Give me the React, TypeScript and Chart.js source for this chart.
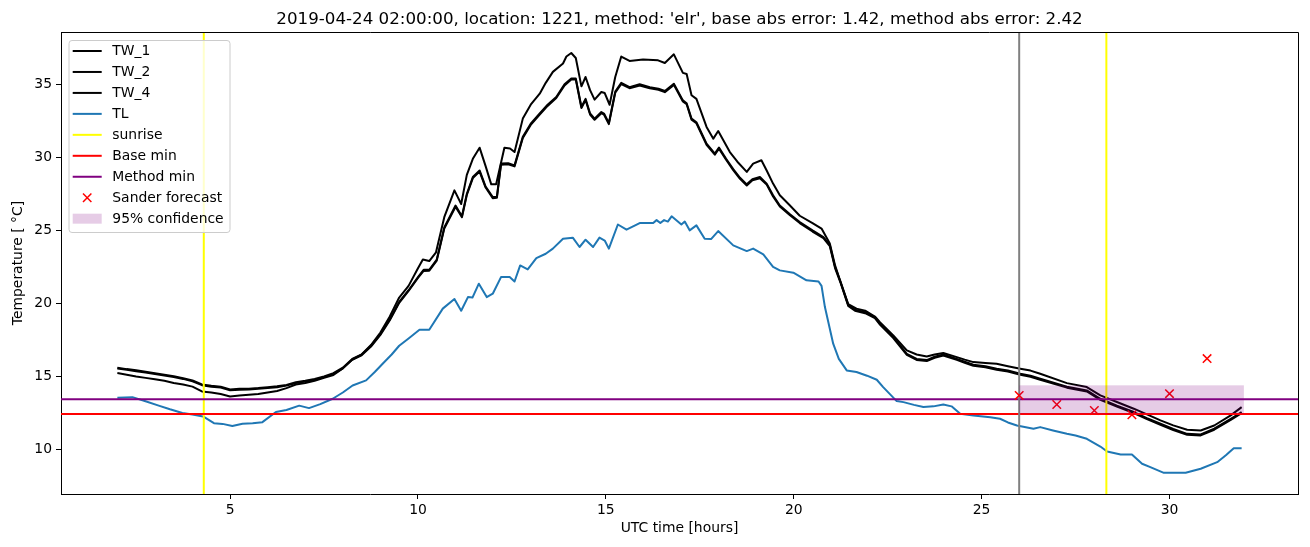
import React, { useEffect, useRef } from "react";
import { Chart, registerables } from "chart.js";

Chart.register(...registerables);

const TITLE =
  "2019-04-24 02:00:00, location: 1221, method: 'elr', base abs error: 1.42, method abs error: 2.42";
const X_LABEL = "UTC time [hours]";
const Y_LABEL = "Temperature [ °C]";
const X_TICKS = [5, 10, 15, 20, 25, 30];
const Y_TICKS = [10, 15, 20, 25, 30, 35];
const X_MIN = 0.5;
const X_MAX = 33.42;
const Y_MIN = 6.95;
const Y_MAX = 38.58;

// [hour, temperature]
const TW_1: [number, number][] = [
  [2.0, 15.6], [2.25, 15.5], [2.5, 15.42], [2.75, 15.32], [3.0, 15.22], [3.25, 15.12], [3.5, 15.02], [3.75, 14.88],
  [4.0, 14.72], [4.25, 14.45], [4.5, 14.36], [4.75, 14.3], [5.0, 14.1], [5.25, 14.15], [5.5, 14.16], [5.75, 14.2],
  [6.0, 14.26], [6.25, 14.32], [6.5, 14.42], [6.75, 14.6], [7.0, 14.7], [7.25, 14.82], [7.5, 15.0], [7.75, 15.22],
  [8.0, 15.6], [8.25, 16.2], [8.5, 16.5], [8.75, 17.1], [9.0, 17.9], [9.25, 18.9], [9.5, 20.1], [9.75, 20.9],
  [10.0, 21.8], [10.15, 22.3], [10.3, 22.3], [10.5, 23.0], [10.7, 25.2], [11.0, 26.7], [11.17, 25.96], [11.3, 27.5],
  [11.46, 28.65], [11.64, 29.1], [11.8, 28.0], [11.99, 27.28], [12.1, 27.3], [12.21, 29.57], [12.4, 29.6], [12.57, 29.45],
  [12.79, 31.4], [13.0, 32.3], [13.24, 33.0], [13.45, 33.6], [13.68, 34.13], [13.9, 35.0], [14.08, 35.4], [14.2, 35.4],
  [14.35, 33.45], [14.46, 34.0], [14.58, 33.0], [14.7, 32.65], [14.88, 33.1], [14.95, 33.0], [15.08, 32.35], [15.25, 34.5],
  [15.41, 35.1], [15.63, 34.8], [15.9, 35.0], [16.17, 34.8], [16.4, 34.7], [16.57, 34.54], [16.81, 35.04], [17.05, 33.9],
  [17.15, 33.7], [17.28, 32.65], [17.41, 32.4], [17.68, 30.94], [17.9, 30.25], [18.01, 30.67], [18.2, 29.9], [18.39, 29.2],
  [18.57, 28.6], [18.75, 28.15], [18.9, 28.5], [19.1, 28.65], [19.28, 28.2], [19.45, 27.4], [19.63, 26.7], [19.9, 26.1],
  [20.16, 25.57], [20.5, 25.0], [20.79, 24.54], [20.96, 24.0], [21.1, 22.5], [21.23, 21.6], [21.45, 19.9], [21.63, 19.57],
  [21.9, 19.4], [22.16, 19.06], [22.3, 18.6], [22.65, 17.7], [23.01, 16.55], [23.27, 16.2], [23.54, 16.12], [23.75, 16.35],
  [23.98, 16.5], [24.34, 16.2], [24.55, 16.0], [24.78, 15.8], [25.1, 15.7], [25.4, 15.53], [25.7, 15.4], [26.03, 15.18],
  [26.3, 15.05], [26.56, 14.84], [27.27, 14.3], [27.8, 14.04], [28.16, 13.47], [28.6, 13.0], [29.05, 12.56], [29.4, 12.15],
  [29.76, 11.76], [30.1, 11.4], [30.47, 11.07], [30.83, 11.03], [31.19, 11.42], [31.63, 12.1], [31.92, 12.56],
];

const TW_2: [number, number][] = [
  [2.0, 15.54], [2.25, 15.45], [2.5, 15.36], [2.75, 15.27], [3.0, 15.16], [3.25, 15.07], [3.5, 14.96], [3.75, 14.83],
  [4.0, 14.66], [4.25, 14.4], [4.5, 14.3], [4.75, 14.24], [5.0, 14.05], [5.25, 14.09], [5.5, 14.1], [5.75, 14.15],
  [6.0, 14.2], [6.25, 14.26], [6.5, 14.37], [6.75, 14.54], [7.0, 14.65], [7.25, 14.76], [7.5, 14.95], [7.75, 15.17],
  [8.0, 15.55], [8.25, 16.14], [8.5, 16.45], [8.75, 17.04], [9.0, 17.84], [9.25, 18.85], [9.5, 20.04], [9.75, 20.85],
  [10.0, 21.74], [10.15, 22.22], [10.3, 22.24], [10.5, 22.93], [10.7, 25.12], [11.0, 26.62], [11.17, 25.9], [11.3, 27.42],
  [11.46, 28.58], [11.64, 29.02], [11.8, 27.93], [11.99, 27.2], [12.1, 27.23], [12.21, 29.5], [12.4, 29.52], [12.57, 29.38],
  [12.79, 31.32], [13.0, 32.22], [13.24, 32.93], [13.45, 33.52], [13.68, 34.06], [13.9, 34.92], [14.08, 35.32], [14.2, 35.33],
  [14.35, 33.38], [14.46, 33.92], [14.58, 32.93], [14.7, 32.57], [14.88, 33.02], [14.95, 32.93], [15.08, 32.27], [15.25, 34.42],
  [15.41, 35.02], [15.63, 34.73], [15.9, 34.92], [16.17, 34.72], [16.4, 34.63], [16.57, 34.46], [16.81, 34.96], [17.05, 33.82],
  [17.15, 33.63], [17.28, 32.57], [17.41, 32.33], [17.68, 30.86], [17.9, 30.18], [18.01, 30.59], [18.2, 29.83], [18.39, 29.12],
  [18.57, 28.53], [18.75, 28.07], [18.9, 28.43], [19.1, 28.57], [19.28, 28.13], [19.45, 27.32], [19.63, 26.63], [19.9, 26.03],
  [20.16, 25.5], [20.5, 24.92], [20.79, 24.47], [20.96, 23.92], [21.1, 22.42], [21.23, 21.53], [21.45, 19.83], [21.63, 19.5],
  [21.9, 19.33], [22.16, 18.99], [22.3, 18.53], [22.65, 17.63], [23.01, 16.48], [23.27, 16.13], [23.54, 16.05], [23.75, 16.28],
  [23.98, 16.43], [24.34, 16.13], [24.55, 15.93], [24.78, 15.73], [25.1, 15.63], [25.4, 15.46], [25.7, 15.33], [26.03, 15.11],
  [26.3, 14.98], [26.56, 14.77], [27.27, 14.23], [27.8, 13.97], [28.16, 13.4], [28.6, 12.93], [29.05, 12.49], [29.4, 12.08],
  [29.76, 11.69], [30.1, 11.33], [30.47, 11.0], [30.83, 10.96], [31.19, 11.35], [31.63, 12.03], [31.92, 12.49],
];

const TW_4: [number, number][] = [
  [2.0, 15.23], [2.25, 15.12], [2.5, 15.0], [2.75, 14.9], [3.0, 14.8], [3.25, 14.7], [3.5, 14.55], [3.75, 14.45],
  [4.0, 14.3], [4.25, 13.97], [4.5, 13.9], [4.75, 13.8], [5.0, 13.63], [5.25, 13.7], [5.5, 13.75], [5.75, 13.8],
  [6.0, 13.9], [6.25, 14.0], [6.5, 14.2], [6.75, 14.45], [7.0, 14.55], [7.25, 14.7], [7.5, 14.9], [7.75, 15.1],
  [8.0, 15.55], [8.25, 16.15], [8.5, 16.5], [8.75, 17.15], [9.0, 18.0], [9.25, 19.1], [9.5, 20.4], [9.75, 21.2],
  [10.0, 22.4], [10.13, 23.0], [10.3, 22.9], [10.48, 23.5], [10.7, 25.9], [10.97, 27.74], [11.15, 26.8], [11.3, 28.8],
  [11.46, 29.9], [11.64, 30.66], [11.8, 29.4], [11.95, 28.15], [12.08, 28.15], [12.3, 30.66], [12.45, 30.6], [12.57, 30.36],
  [12.79, 32.65], [13.0, 33.6], [13.24, 34.36], [13.4, 35.1], [13.59, 35.85], [13.86, 36.42], [13.95, 36.9], [14.08, 37.14],
  [14.2, 36.8], [14.35, 34.86], [14.46, 35.5], [14.58, 34.6], [14.7, 33.95], [14.88, 34.47], [14.97, 34.4], [15.1, 33.6],
  [15.25, 35.5], [15.41, 36.9], [15.63, 36.6], [15.99, 36.7], [16.39, 36.64], [16.57, 36.46], [16.81, 37.05], [17.05, 35.78],
  [17.15, 35.7], [17.28, 34.25], [17.41, 34.0], [17.68, 32.08], [17.86, 31.28], [17.99, 31.8], [18.3, 30.36], [18.5, 29.7],
  [18.75, 29.0], [18.92, 29.57], [19.14, 29.8], [19.28, 29.1], [19.45, 28.2], [19.63, 27.4], [19.9, 26.7], [20.16, 26.0],
  [20.5, 25.5], [20.74, 25.12], [20.96, 24.1], [21.1, 22.6], [21.23, 21.58], [21.45, 19.95], [21.67, 19.64], [21.9, 19.5],
  [22.16, 19.1], [22.3, 18.7], [22.65, 17.8], [23.01, 16.78], [23.27, 16.5], [23.54, 16.37], [23.75, 16.5], [23.98, 16.6],
  [24.34, 16.32], [24.55, 16.15], [24.78, 15.98], [25.1, 15.92], [25.4, 15.87], [25.7, 15.7], [26.03, 15.53], [26.3, 15.4],
  [26.56, 15.18], [27.27, 14.54], [27.8, 14.27], [28.16, 13.7], [28.6, 13.25], [29.05, 12.79], [29.4, 12.4], [29.76, 11.99],
  [30.1, 11.65], [30.47, 11.35], [30.83, 11.3], [31.19, 11.64], [31.63, 12.33], [31.92, 12.9],
];

const TL: [number, number][] = [
  [2.0, 13.54], [2.4, 13.58], [2.75, 13.3], [3.1, 13.0], [3.4, 12.75], [3.73, 12.5], [4.0, 12.4], [4.28, 12.26],
  [4.57, 11.8], [4.8, 11.75], [5.06, 11.6], [5.33, 11.76], [5.6, 11.8], [5.86, 11.87], [6.22, 12.56],
  [6.5, 12.7], [6.84, 13.0], [7.1, 12.83], [7.4, 13.1], [7.73, 13.47], [8.0, 13.9], [8.26, 14.38], [8.62, 14.73],
  [8.85, 15.3], [9.06, 15.87], [9.3, 16.5], [9.5, 17.1], [9.75, 17.6], [10.04, 18.2], [10.3, 18.2], [10.66, 19.64],
  [10.97, 20.3], [11.15, 19.5], [11.33, 20.43], [11.45, 20.4], [11.62, 21.35], [11.83, 20.43], [11.99, 20.66], [12.21, 21.8],
  [12.44, 21.8], [12.57, 21.5], [12.72, 22.6], [12.92, 22.33], [13.15, 23.1], [13.4, 23.4], [13.59, 23.75], [13.86, 24.43],
  [14.12, 24.5], [14.3, 23.86], [14.46, 24.36], [14.66, 23.86], [14.83, 24.5], [14.97, 24.3], [15.08, 23.75], [15.32, 25.4],
  [15.55, 25.05], [15.9, 25.5], [16.26, 25.5], [16.35, 25.7], [16.45, 25.5], [16.55, 25.7], [16.65, 25.6], [16.75, 25.96],
  [17.01, 25.4], [17.1, 25.6], [17.23, 25.0], [17.41, 25.34], [17.63, 24.43], [17.8, 24.4], [17.99, 24.95], [18.39, 23.97],
  [18.75, 23.58], [18.92, 23.75], [19.19, 23.36], [19.45, 22.5], [19.63, 22.26], [19.99, 22.1], [20.34, 21.58], [20.66, 21.5],
  [20.74, 21.2], [20.83, 19.75], [21.05, 17.24], [21.2, 16.2], [21.41, 15.41], [21.67, 15.3], [21.95, 15.05], [22.21, 14.77],
  [22.38, 14.27], [22.74, 13.31], [22.92, 13.24], [23.2, 13.05], [23.45, 12.9], [23.72, 12.95], [23.98, 13.08], [24.2, 12.95],
  [24.43, 12.44], [24.78, 12.33], [25.23, 12.21], [25.49, 12.1], [25.7, 11.85], [25.94, 11.64], [26.38, 11.42], [26.56, 11.53],
  [26.9, 11.3], [27.27, 11.07], [27.5, 10.95], [27.8, 10.73], [28.16, 10.2], [28.34, 9.86], [28.7, 9.66], [29.0, 9.66],
  [29.27, 9.02], [29.49, 8.79], [29.85, 8.4], [30.43, 8.4], [30.83, 8.68], [31.27, 9.13], [31.5, 9.6], [31.71, 10.09],
  [31.92, 10.09],
];

const SUNRISE_HOURS = [4.3, 28.32];
const BASE_MIN = 12.42;
const METHOD_MIN = 13.43;
const FORECAST_START = 26.0;
const SANDER_HOURS = [26, 27, 28, 29, 30, 31];
const SANDER_VALUES = [13.7, 13.08, 12.67, 12.38, 13.82, 16.22];
const CONF_HOURS = [26.0, 31.98];
const CONF_LOW = 12.44;
const CONF_HIGH = 14.39;

const FONT = "'DejaVu Sans', sans-serif";
const TL_COLOR = "#1f77b4";
const BAND_COLOR = "rgba(128,0,128,0.2)";

const toXY = (arr: [number, number][]) => arr.map(([x, y]) => ({ x, y }));

const LEGEND = [
  { label: "TW_1", kind: "line", color: "#000000" },
  { label: "TW_2", kind: "line", color: "#000000" },
  { label: "TW_4", kind: "line", color: "#000000" },
  { label: "TL", kind: "line", color: TL_COLOR },
  { label: "sunrise", kind: "line", color: "#ffff00" },
  { label: "Base min", kind: "line", color: "#ff0000" },
  { label: "Method min", kind: "line", color: "#800080" },
  { label: "Sander forecast", kind: "marker", color: "#ff0000" },
  { label: "95% confidence", kind: "patch", color: BAND_COLOR },
];

function drawCross(ctx: CanvasRenderingContext2D, x: number, y: number, h: number) {
  ctx.beginPath();
  ctx.moveTo(x - h, y - h);
  ctx.lineTo(x + h, y + h);
  ctx.moveTo(x - h, y + h);
  ctx.lineTo(x + h, y - h);
  ctx.stroke();
}

const refPlugin = {
  id: "refLines",
  afterDatasetDraw(chart: any, args: any) {
    if (args.index !== 1) return;
    const { ctx, chartArea: a, scales } = chart;
    ctx.save();
    ctx.beginPath();
    ctx.rect(a.left, a.top, a.right - a.left, a.bottom - a.top);
    ctx.clip();
    ctx.lineWidth = 2;
    ctx.lineCap = "butt";
    const vline = (v: number, color: string) => {
      const x = scales.x.getPixelForValue(v);
      ctx.strokeStyle = color;
      ctx.beginPath();
      ctx.moveTo(x, a.top);
      ctx.lineTo(x, a.bottom);
      ctx.stroke();
    };
    const hline = (v: number, color: string) => {
      const y = scales.y.getPixelForValue(v);
      ctx.strokeStyle = color;
      ctx.beginPath();
      ctx.moveTo(a.left, y);
      ctx.lineTo(a.right, y);
      ctx.stroke();
    };
    SUNRISE_HOURS.forEach((h) => vline(h, "#ffff00"));
    hline(BASE_MIN, "#ff0000");
    hline(METHOD_MIN, "#800080");
    vline(FORECAST_START, "#808080");
    ctx.restore();
  },
  afterDatasetsDraw(chart: any) {
    const { ctx, chartArea: a, scales } = chart;
    ctx.save();
    const x0 = scales.x.getPixelForValue(CONF_HOURS[0]);
    const x1 = scales.x.getPixelForValue(CONF_HOURS[1]);
    const y0 = scales.y.getPixelForValue(CONF_HIGH);
    const y1 = scales.y.getPixelForValue(CONF_LOW);
    ctx.fillStyle = BAND_COLOR;
    ctx.fillRect(x0, y0, x1 - x0, y1 - y0);
    // top and right spines
    ctx.strokeStyle = "#000";
    ctx.lineWidth = 1;
    ctx.beginPath();
    ctx.moveTo(Math.round(a.left) + 0.5, Math.round(a.top) + 0.5);
    ctx.lineTo(Math.round(a.right) + 0.5, Math.round(a.top) + 0.5);
    ctx.lineTo(Math.round(a.right) + 0.5, Math.round(a.bottom) + 0.5);
    ctx.stroke();
    ctx.restore();
  },
  afterDraw(chart: any) {
    const { ctx, chartArea: a } = chart;
    ctx.save();
    // title
    ctx.fillStyle = "#000";
    ctx.font = `16.7px ${FONT}`;
    ctx.textAlign = "center";
    ctx.textBaseline = "alphabetic";
    ctx.fillText(TITLE, (a.left + a.right) / 2, 24);
    // legend
    const bx = a.left + 7.5;
    const by = a.top + 8;
    const bw = 161;
    const bh = 192;
    ctx.beginPath();
    (ctx as any).roundRect(bx + 0.5, by + 0.5, bw, bh, 3);
    ctx.fillStyle = "rgba(255,255,255,0.8)";
    ctx.fill();
    ctx.strokeStyle = "#cccccc";
    ctx.lineWidth = 1;
    ctx.stroke();
    ctx.font = `13.9px ${FONT}`;
    ctx.textAlign = "left";
    ctx.textBaseline = "middle";
    LEGEND.forEach((e, i) => {
      const cy = a.top + 19 + i * 20.96;
      const hx0 = a.left + 11.7;
      const hx1 = a.left + 40.7;
      if (e.kind === "line") {
        ctx.strokeStyle = e.color;
        ctx.lineWidth = 2;
        ctx.beginPath();
        ctx.moveTo(hx0, cy);
        ctx.lineTo(hx1, cy);
        ctx.stroke();
      } else if (e.kind === "marker") {
        ctx.strokeStyle = e.color;
        ctx.lineWidth = 1.5;
        drawCross(ctx, (hx0 + hx1) / 2, cy, 4.2);
      } else {
        ctx.fillStyle = e.color;
        ctx.fillRect(hx0, cy - 5, hx1 - hx0, 10);
      }
      ctx.fillStyle = "#000";
      ctx.fillText(e.label, a.left + 51.3, cy + 0.5);
    });
    ctx.restore();
  },
};

export default function App() {
  const ref = useRef<HTMLCanvasElement | null>(null);
  useEffect(() => {
    document.body.style.margin = "0";
    if (!ref.current) return;
    Chart.defaults.font.family = FONT;
    Chart.defaults.color = "#000";
    const lineDs = (label: string, data: [number, number][], color: string) => ({
      label,
      data: toXY(data),
      borderColor: color,
      backgroundColor: color,
      borderWidth: 2,
      borderJoinStyle: "round",
      pointRadius: 0,
      tension: 0,
      fill: false,
    });
    const chart = new Chart(ref.current, {
      type: "line",
      data: {
        datasets: [
          {
            label: "Sander forecast",
            data: SANDER_HOURS.map((h, i) => ({ x: h, y: SANDER_VALUES[i] })),
            showLine: false,
            pointStyle: "crossRot",
            pointRadius: 6,
            pointBorderWidth: 1.5,
            borderColor: "#ff0000",
            backgroundColor: "#ff0000",
          } as any,
          lineDs("TL", TL, TL_COLOR),
          lineDs("TW_4", TW_4, "#000000"),
          lineDs("TW_2", TW_2, "#000000"),
          lineDs("TW_1", TW_1, "#000000"),
        ],
      },
      options: {
        animation: false,
        responsive: false,
        devicePixelRatio: 1,
        layout: { padding: { left: 0, top: 32, right: 12, bottom: 0 } },
        plugins: {
          legend: { display: false },
          tooltip: { enabled: false },
          title: { display: false },
        },
        scales: {
          x: {
            type: "linear",
            min: X_MIN,
            max: X_MAX,
            afterBuildTicks: (s: any) => {
              s.ticks = X_TICKS.map((v) => ({ value: v }));
            },
            afterFit: (s: any) => {
              s.height = 53;
            },
            grid: { drawOnChartArea: false, tickLength: 5, tickColor: "#000", tickWidth: 1 },
            border: { display: true, color: "#000", width: 1 },
            ticks: { font: { size: 13.9, family: FONT }, color: "#000", padding: 3, maxRotation: 0 },
            title: {
              display: true,
              text: X_LABEL,
              font: { size: 13.9, family: FONT },
              color: "#000",
              padding: { top: 0, bottom: 10 },
            },
          },
          y: {
            type: "linear",
            min: Y_MIN,
            max: Y_MAX,
            afterBuildTicks: (s: any) => {
              s.ticks = Y_TICKS.map((v) => ({ value: v }));
            },
            afterFit: (s: any) => {
              s.width = 61;
            },
            grid: { drawOnChartArea: false, tickLength: 5, tickColor: "#000", tickWidth: 1 },
            border: { display: true, color: "#000", width: 1 },
            ticks: { font: { size: 13.9, family: FONT }, color: "#000", padding: 4 },
            title: {
              display: true,
              text: Y_LABEL,
              font: { size: 13.9, family: FONT },
              color: "#000",
              padding: { top: 10, bottom: 0 },
            },
          },
        },
      } as any,
      plugins: [refPlugin],
    });
    return () => chart.destroy();
  }, []);
  return (
    <div style={{ width: 1310, height: 547 }}>
      <canvas ref={ref} width={1310} height={547} style={{ display: "block" }} />
    </div>
  );
}
